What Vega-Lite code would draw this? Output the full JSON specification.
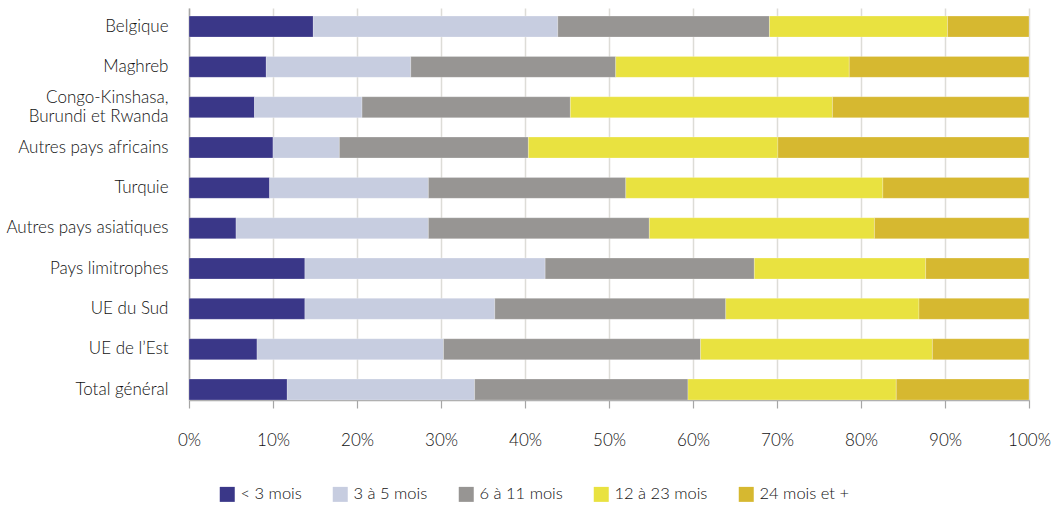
{
  "$schema": "https://vega.github.io/schema/vega-lite/v6.json",
  "width": 840,
  "height": 392,
  "autosize": {"type": "none"},
  "padding": {"left": 189, "top": 8, "right": 22, "bottom": 109},
  "background": "white",
  "config": {
    "view": {"stroke": null},
    "font": "Lato",
    "axis": {"labelFont": "Lato", "labelFontSize": 17, "labelColor": "#111111", "labelFontWeight": 300},
    "legend": {"labelFont": "Lato", "labelFontSize": 16.5, "labelColor": "#111111", "labelFontWeight": 300}
  },
  "data": {
    "values": [
      {"pays": "Belgique", "duree": "< 3 mois", "o": 1, "v": 14.8},
      {"pays": "Belgique", "duree": "3 à 5 mois", "o": 2, "v": 29.1},
      {"pays": "Belgique", "duree": "6 à 11 mois", "o": 3, "v": 25.2},
      {"pays": "Belgique", "duree": "12 à 23 mois", "o": 4, "v": 21.2},
      {"pays": "Belgique", "duree": "24 mois et +", "o": 5, "v": 9.7},
      {"pays": "Maghreb", "duree": "< 3 mois", "o": 1, "v": 9.2},
      {"pays": "Maghreb", "duree": "3 à 5 mois", "o": 2, "v": 17.2},
      {"pays": "Maghreb", "duree": "6 à 11 mois", "o": 3, "v": 24.4},
      {"pays": "Maghreb", "duree": "12 à 23 mois", "o": 4, "v": 27.8},
      {"pays": "Maghreb", "duree": "24 mois et +", "o": 5, "v": 21.4},
      {"pays": "Congo-Kinshasa, Burundi et Rwanda", "duree": "< 3 mois", "o": 1, "v": 7.8},
      {"pays": "Congo-Kinshasa, Burundi et Rwanda", "duree": "3 à 5 mois", "o": 2, "v": 12.8},
      {"pays": "Congo-Kinshasa, Burundi et Rwanda", "duree": "6 à 11 mois", "o": 3, "v": 24.8},
      {"pays": "Congo-Kinshasa, Burundi et Rwanda", "duree": "12 à 23 mois", "o": 4, "v": 31.2},
      {"pays": "Congo-Kinshasa, Burundi et Rwanda", "duree": "24 mois et +", "o": 5, "v": 23.4},
      {"pays": "Autres pays africains", "duree": "< 3 mois", "o": 1, "v": 10.0},
      {"pays": "Autres pays africains", "duree": "3 à 5 mois", "o": 2, "v": 7.9},
      {"pays": "Autres pays africains", "duree": "6 à 11 mois", "o": 3, "v": 22.5},
      {"pays": "Autres pays africains", "duree": "12 à 23 mois", "o": 4, "v": 29.7},
      {"pays": "Autres pays africains", "duree": "24 mois et +", "o": 5, "v": 29.9},
      {"pays": "Turquie", "duree": "< 3 mois", "o": 1, "v": 9.6},
      {"pays": "Turquie", "duree": "3 à 5 mois", "o": 2, "v": 18.9},
      {"pays": "Turquie", "duree": "6 à 11 mois", "o": 3, "v": 23.5},
      {"pays": "Turquie", "duree": "12 à 23 mois", "o": 4, "v": 30.6},
      {"pays": "Turquie", "duree": "24 mois et +", "o": 5, "v": 17.4},
      {"pays": "Autres pays asiatiques", "duree": "< 3 mois", "o": 1, "v": 5.6},
      {"pays": "Autres pays asiatiques", "duree": "3 à 5 mois", "o": 2, "v": 22.9},
      {"pays": "Autres pays asiatiques", "duree": "6 à 11 mois", "o": 3, "v": 26.3},
      {"pays": "Autres pays asiatiques", "duree": "12 à 23 mois", "o": 4, "v": 26.8},
      {"pays": "Autres pays asiatiques", "duree": "24 mois et +", "o": 5, "v": 18.4},
      {"pays": "Pays limitrophes", "duree": "< 3 mois", "o": 1, "v": 13.8},
      {"pays": "Pays limitrophes", "duree": "3 à 5 mois", "o": 2, "v": 28.6},
      {"pays": "Pays limitrophes", "duree": "6 à 11 mois", "o": 3, "v": 24.9},
      {"pays": "Pays limitrophes", "duree": "12 à 23 mois", "o": 4, "v": 20.4},
      {"pays": "Pays limitrophes", "duree": "24 mois et +", "o": 5, "v": 12.3},
      {"pays": "UE du Sud", "duree": "< 3 mois", "o": 1, "v": 13.8},
      {"pays": "UE du Sud", "duree": "3 à 5 mois", "o": 2, "v": 22.6},
      {"pays": "UE du Sud", "duree": "6 à 11 mois", "o": 3, "v": 27.5},
      {"pays": "UE du Sud", "duree": "12 à 23 mois", "o": 4, "v": 23.0},
      {"pays": "UE du Sud", "duree": "24 mois et +", "o": 5, "v": 13.1},
      {"pays": "UE de l’Est", "duree": "< 3 mois", "o": 1, "v": 8.1},
      {"pays": "UE de l’Est", "duree": "3 à 5 mois", "o": 2, "v": 22.2},
      {"pays": "UE de l’Est", "duree": "6 à 11 mois", "o": 3, "v": 30.6},
      {"pays": "UE de l’Est", "duree": "12 à 23 mois", "o": 4, "v": 27.6},
      {"pays": "UE de l’Est", "duree": "24 mois et +", "o": 5, "v": 11.5},
      {"pays": "Total général", "duree": "< 3 mois", "o": 1, "v": 11.7},
      {"pays": "Total général", "duree": "3 à 5 mois", "o": 2, "v": 22.3},
      {"pays": "Total général", "duree": "6 à 11 mois", "o": 3, "v": 25.4},
      {"pays": "Total général", "duree": "12 à 23 mois", "o": 4, "v": 24.8},
      {"pays": "Total général", "duree": "24 mois et +", "o": 5, "v": 15.8}
    ]
  },
  "mark": {"type": "bar", "stroke": "#ffffff", "strokeWidth": 0.4, "strokeOpacity": 0.6},
  "encoding": {
    "y": {
      "field": "pays",
      "type": "nominal",
      "sort": null,
      "title": null,
      "scale": {"paddingInner": 0.48, "paddingOuter": 0.1, "align": 1},
      "axis": {
        "ticks": false,
        "tickSize": 0,
        "labelPadding": 21,
        "domainColor": "#a6a6a6",
        "domainWidth": 1.5,
        "labelLineHeight": 19,
        "labelOffset": {"condition": {"test": "datum.value == 'Congo-Kinshasa, Burundi et Rwanda'", "value": -9.5}, "value": 0},
        "labelExpr": "datum.value == 'Congo-Kinshasa, Burundi et Rwanda' ? ['Congo-Kinshasa,', 'Burundi et Rwanda'] : datum.label"
      }
    },
    "x": {
      "field": "v",
      "type": "quantitative",
      "stack": "normalize",
      "title": null,
      "scale": {"domain": [0, 1], "nice": false},
      "axis": {
        "values": [0, 0.1, 0.2, 0.3, 0.4, 0.5, 0.6, 0.7, 0.8, 0.9, 1],
        "format": ".0%",
        "grid": true,
        "gridColor": "#dddcd7",
        "gridWidth": 1.5,
        "domainColor": "#a6a6a6",
        "domainWidth": 1.5,
        "tickColor": "#a6a6a6",
        "tickWidth": 1.2,
        "tickSize": 8,
        "labelPadding": 24,
        "labelFlush": false
      }
    },
    "color": {
      "field": "duree",
      "type": "nominal",
      "title": null,
      "scale": {
        "domain": ["< 3 mois", "3 à 5 mois", "6 à 11 mois", "12 à 23 mois", "24 mois et +"],
        "range": ["#3a3788", "#c7cde0", "#979593", "#e9e240", "#d6b830"]
      },
      "legend": {
        "orient": "none",
        "direction": "horizontal",
        "legendX": 30,
        "legendY": 478,
        "symbolType": "square",
        "symbolSize": 225,
        "symbolStrokeWidth": 0,
        "labelOffset": 5,
        "columnPadding": 30,
        "padding": 0
      }
    },
    "order": {"field": "o", "type": "quantitative"}
  }
}
